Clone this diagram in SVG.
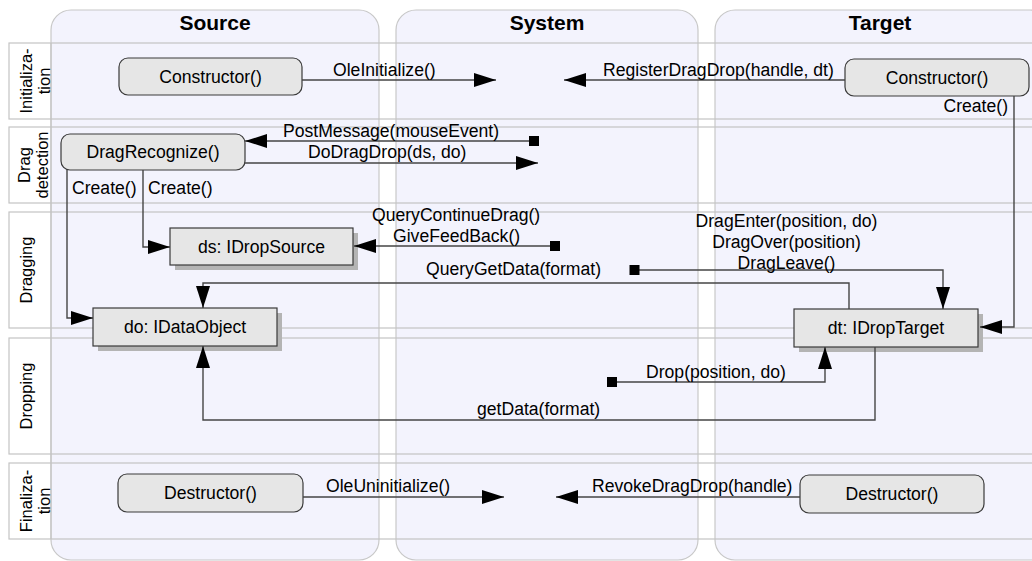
<svg xmlns="http://www.w3.org/2000/svg" width="1032" height="561" viewBox="0 0 1032 561">
  <style>
    text { font-family: "Liberation Sans", Arial, sans-serif; fill: #000; }
    .lane { fill: #f3f3fd; stroke: #c8c8c8; stroke-width: 1.2; }
    .lane-title { font-size: 21px; font-weight: bold; text-anchor: middle; }
    .row { fill: none; stroke: #c4c4c4; stroke-width: 1.2; }
    .row-label { font-size: 16.5px; text-anchor: middle; }
    .state { fill: #e6e6e6; stroke: #3a3a3a; stroke-width: 1.2; }
    .obj { fill: #e6e6e6; stroke: #3a3a3a; stroke-width: 1.2; }
    .shadow { fill: #b4b4b4; }
    .node-text { font-size: 17.6px; text-anchor: middle; }
    .conn { fill: none; stroke: #454545; stroke-width: 1.4; }
    .arrow { marker-end: url(#arrow); }
    .sq { marker-start: url(#square); }
    .lbl { font-size: 17.6px; }
    .mid { text-anchor: middle; }
    .end { text-anchor: end; }
  </style>
  <defs>
    <marker id="arrow" markerUnits="userSpaceOnUse" markerWidth="22" markerHeight="14" refX="22" refY="7" orient="auto" overflow="visible">
      <path d="M0,0 L22,7 L0,14 Z" fill="#000"/>
    </marker>
    <marker id="square" markerUnits="userSpaceOnUse" markerWidth="10" markerHeight="10" refX="5" refY="5" orient="0" overflow="visible">
      <rect x="0" y="0" width="10" height="10" fill="#000"/>
    </marker>
  </defs>

  <rect width="1032" height="561" fill="#fff"/>

  <!-- swimlanes -->
  <g id="lanes">
    <rect class="lane" x="51" y="10" width="328" height="550" rx="20"/>
    <rect class="lane" x="396" y="10" width="302" height="550" rx="20"/>
    <rect class="lane" x="715" y="10" width="335" height="550" rx="20"/>
    <text class="lane-title" x="215" y="30">Source</text>
    <text class="lane-title" x="547" y="30">System</text>
    <text class="lane-title" x="880" y="30">Target</text>
  </g>

  <!-- phase rows -->
  <g id="rows">
    <rect class="row" x="9" y="43" width="1040" height="76"/>
    <rect class="row" x="9" y="127" width="1040" height="76"/>
    <rect class="row" x="9" y="212" width="1040" height="116"/>
    <rect class="row" x="9" y="338" width="1040" height="116"/>
    <rect class="row" x="9" y="463" width="1040" height="76"/>
    <line x1="51" y1="43" x2="51" y2="539" stroke="#c4c4c4" stroke-width="1.2"/>
    <text class="row-label" transform="translate(32,81) rotate(-90)">Initializa-</text>
    <text class="row-label" transform="translate(50,81) rotate(-90)">tion</text>
    <text class="row-label" transform="translate(30,165) rotate(-90)">Drag</text>
    <text class="row-label" transform="translate(48,165) rotate(-90)">detection</text>
    <text class="row-label" transform="translate(32,270) rotate(-90)">Dragging</text>
    <text class="row-label" transform="translate(32,396) rotate(-90)">Dropping</text>
    <text class="row-label" transform="translate(32,501) rotate(-90)">Finaliza-</text>
    <text class="row-label" transform="translate(50,501) rotate(-90)">tion</text>
  </g>

  <!-- nodes -->
  <g id="nodes">
    <g id="src-constructor">
      <rect class="state" x="119" y="58" width="183" height="37" rx="9"/>
      <text class="node-text" x="210.5" y="83">Constructor()</text>
    </g>
    <g id="tgt-constructor">
      <rect class="state" x="845" y="59" width="184" height="37" rx="9"/>
      <text class="node-text" x="937" y="84">Constructor()</text>
    </g>
    <g id="drag-recognize">
      <rect class="state" x="61" y="134" width="184" height="36" rx="9"/>
      <text class="node-text" x="153" y="158">DragRecognize()</text>
    </g>
    <g id="drop-source">
      <rect class="shadow" x="175" y="233" width="183" height="37"/>
      <rect class="obj" x="170" y="228" width="183" height="37"/>
      <text class="node-text" x="261.5" y="252.5">ds: IDropSource</text>
    </g>
    <g id="data-object">
      <rect class="shadow" x="98" y="313" width="184" height="38"/>
      <rect class="obj" x="93" y="308" width="184" height="38"/>
      <text class="node-text" x="185" y="333">do: IDataObject</text>
    </g>
    <g id="drop-target">
      <rect class="shadow" x="799" y="314" width="184" height="38"/>
      <rect class="obj" x="794" y="309" width="184" height="38"/>
      <text class="node-text" x="886" y="334">dt: IDropTarget</text>
    </g>
    <g id="src-destructor">
      <rect class="state" x="118" y="474" width="185" height="38" rx="9"/>
      <text class="node-text" x="210.5" y="499">Destructor()</text>
    </g>
    <g id="tgt-destructor">
      <rect class="state" x="800" y="475" width="184" height="38" rx="9"/>
      <text class="node-text" x="892" y="500">Destructor()</text>
    </g>
  </g>

  <!-- connectors -->
  <g id="connectors">
    <path class="conn arrow" d="M302,80 H496"/>
    <text class="lbl" x="333" y="76">OleInitialize()</text>

    <path class="conn arrow" d="M845,80 H564"/>
    <text class="lbl" x="603" y="76">RegisterDragDrop(handle, dt)</text>

    <path class="conn arrow" d="M1014,96 V327 H980"/>
    <text class="lbl end" x="1008" y="112">Create()</text>

    <path class="conn arrow sq" d="M534,141 H245"/>
    <text class="lbl" x="283" y="137">PostMessage(mouseEvent)</text>

    <path class="conn arrow" d="M245,163 H538"/>
    <text class="lbl" x="308" y="158">DoDragDrop(ds, do)</text>

    <path class="conn arrow" d="M67,170 V318 H93"/>
    <text class="lbl" x="72" y="194">Create()</text>

    <path class="conn arrow" d="M143,170 V247 H170"/>
    <text class="lbl" x="148" y="194">Create()</text>

    <path class="conn arrow sq" d="M555,246 H354"/>
    <text class="lbl" x="372" y="221">QueryContinueDrag()</text>
    <text class="lbl" x="393" y="242">GiveFeedBack()</text>

    <path class="conn arrow" d="M849,309 V283 H203 V308"/>
    <text class="lbl" x="426" y="275">QueryGetData(format)</text>

    <path class="conn arrow sq" d="M634.5,270 H943 V309"/>
    <text class="lbl mid" x="786.5" y="227">DragEnter(position, do)</text>
    <text class="lbl mid" x="786.5" y="248">DragOver(position)</text>
    <text class="lbl mid" x="786.5" y="269">DragLeave()</text>

    <path class="conn arrow sq" d="M612,382 H825 V347"/>
    <text class="lbl" x="646" y="378">Drop(position, do)</text>

    <path class="conn arrow" d="M875,347 V420 H203 V346"/>
    <text class="lbl" x="477" y="415">getData(format)</text>

    <path class="conn arrow" d="M303,497 H504"/>
    <text class="lbl" x="326" y="492">OleUninitialize()</text>

    <path class="conn arrow" d="M800,497 H556"/>
    <text class="lbl" x="592" y="492">RevokeDragDrop(handle)</text>
  </g>
</svg>
